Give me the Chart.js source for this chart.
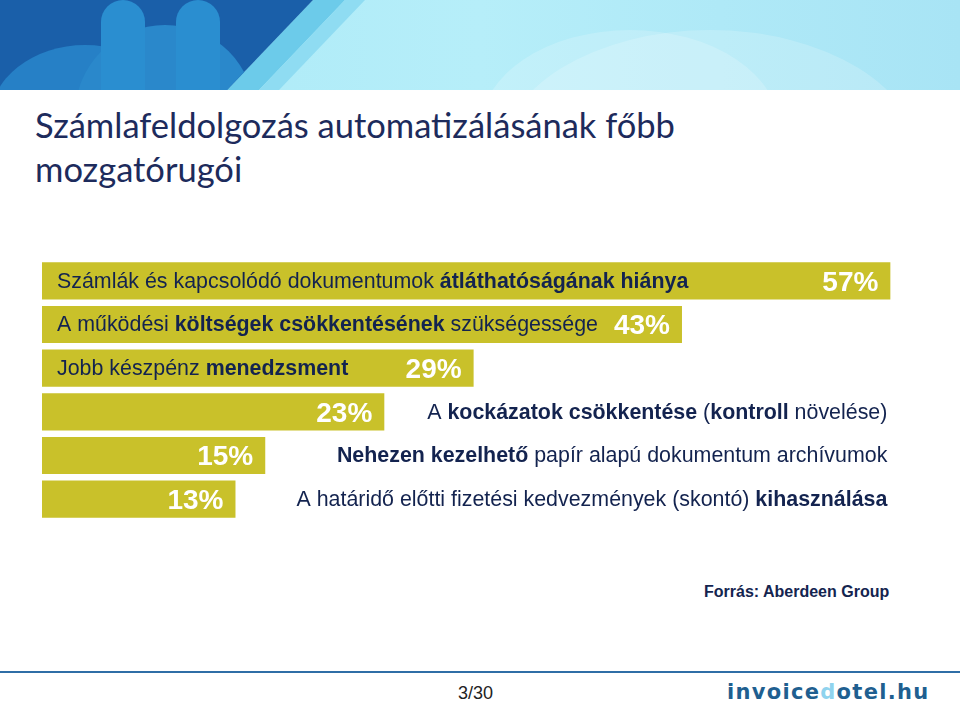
<!DOCTYPE html>
<html>
<head>
<meta charset="utf-8">
<script src="https://cdn.jsdelivr.net/npm/chart.js@4"></script>
<style>
  html, body { margin: 0; padding: 0; background: #fff; }
  body { width: 960px; height: 707px; position: relative; overflow: hidden; font-family: "Liberation Sans", Arial, sans-serif; }
  .header { position: absolute; left: 0; top: 0; width: 960px; height: 90px; background: linear-gradient(90deg, #a9e9f7 0%, #b6eef9 50%, #a8e4f5 100%); overflow: hidden; }
  .header .soft { position: absolute; border-radius: 50%; background: rgba(255,255,255,0.18); }
  .header .dark { position: absolute; left: 0; top: 0; width: 960px; height: 90px; background: #1a5fa9; clip-path: polygon(0 0, 313px 0, 227px 90px, 0 90px); overflow: hidden; }
  .header .stripe { position: absolute; left: 0; top: 0; width: 960px; height: 90px; background: #6ccbea; clip-path: polygon(313px 0, 345px 0, 259px 90px, 227px 90px); }
  .header .stripe2 { position: absolute; left: 0; top: 0; width: 960px; height: 90px; background: #8fdcf2; clip-path: polygon(345px 0, 365px 0, 279px 90px, 259px 90px); }
  .dark .arc { position: absolute; border-radius: 50%; background: #2680c6; }
  .dark .pill { position: absolute; border-radius: 24px 24px 0 0; background: #2a8ed0; }
  .title { position: absolute; left: 35px; top: 103px; font-family: Lato, "Open Sans", sans-serif; font-size: 34.5px; line-height: 44px; color: #1d2b5c; }
  .chartbox { position: absolute; left: 42px; top: 259px; width: 893px; height: 262px; }
  .source { position: absolute; left: 704px; top: 583px; font-size: 16px; font-weight: bold; color: #14244f; }
  .rule { position: absolute; left: 0; top: 671px; width: 960px; height: 2px; background: #2f6ea6; }
  .page { position: absolute; left: 458px; top: 683px; font-size: 18px; color: #222; }
  .logo { position: absolute; left: 727px; top: 680px; font-family: "DejaVu Sans", sans-serif; font-weight: bold; font-size: 21px; letter-spacing: 1.3px; color: #1f5f90; }
  .logo span { color: #8fd3ee; }
</style>
</head>
<body>
<div class="header">
  <div class="soft" style="left:500px; top:30px; width:420px; height:260px;"></div>
  <div class="soft" style="left:480px; top:30px; width:300px; height:200px;"></div>
  <div class="stripe"></div>
  <div class="stripe2"></div>
  <div class="dark">
    <div class="arc" style="left:-10px; top:45px; width:190px; height:150px;"></div>
    <div class="arc" style="left:75px; top:25px; width:180px; height:180px; background:#2a88cb;"></div>
    <div class="pill" style="left:101px; top:0; width:44px; height:90px;"></div>
    <div class="pill" style="left:176px; top:0; width:44px; height:90px;"></div>
  </div>
</div>

<div class="title">Számlafeldolgozás automatizálásának főbb<br>mozgatórugói</div>

<div class="chartbox"><canvas id="bars"></canvas></div>

<div class="source">Forrás: Aberdeen Group</div>
<div class="rule"></div>
<div class="page">3/30</div>
<div class="logo">invoice<span>d</span>otel.hu</div>

<script>
// drivers, top to bottom
const categories = [
  'Számlák és kapcsolódó dokumentumok átláthatóságának hiánya',
  'A működési költségek csökkentésének szükségessége',
  'Jobb készpénz menedzsment',
  'A kockázatok csökkentése (kontroll növelése)',
  'Nehezen kezelhető papír alapú dokumentum archívumok',
  'A határidő előtti fizetési kedvezmények (skontó) kihasználása'
];
const values = [57, 43, 29, 23, 15, 13];
// same texts split into [text, bold] pieces
const labelParts = [
  [['Számlák és kapcsolódó dokumentumok ', false], ['átláthatóságának hiánya', true]],
  [['A működési ', false], ['költségek csökkentésének', true], [' szükségessége', false]],
  [['Jobb készpénz ', false], ['menedzsment', true]],
  [['A ', false], ['kockázatok csökkentése', true], [' (', false], ['kontroll', true], [' növelése)', false]],
  [['Nehezen kezelhető', true], [' papír alapú dokumentum archívumok', false]],
  [['A határidő előtti fizetési kedvezmények (skontó) ', false], ['kihasználása', true]]
];

const barColor = '#c9c12a';
const textColor = '#13234f';
const labelFont = '"Liberation Sans", Arial, sans-serif';
const labelSize = 21.4;

const barLabels = {
  id: 'barLabels',
  afterDatasetsDraw(chart) {
    const ctx = chart.ctx;
    const meta = chart.getDatasetMeta(0);
    const xs = chart.scales.x;
    const outsideRight = xs.getPixelForValue(Math.max(...values)) - 3;
    ctx.save();
    ctx.textBaseline = 'middle';
    meta.data.forEach((bar, i) => {
      const left = bar.base;
      const right = bar.x;
      const y = bar.y + 1;

      // percentage inside the bar end
      ctx.font = 'bold 28px ' + labelFont;
      ctx.fillStyle = '#ffffff';
      ctx.textAlign = 'right';
      const pct = values[i] + '%';
      const pctW = ctx.measureText(pct).width;
      ctx.fillText(pct, right - 12, y + 1);

      // description, inside if it fits, else right of the bar
      const parts = labelParts[i];
      let total = 0;
      parts.forEach(p => {
        ctx.font = (p[1] ? 'bold ' : '') + labelSize + 'px ' + labelFont;
        total += ctx.measureText(p[0]).width;
      });
      let x;
      if (total + pctW + 40 < right - left) {
        x = left + 15;
      } else {
        x = outsideRight - total;
      }
      ctx.textAlign = 'left';
      ctx.fillStyle = textColor;
      parts.forEach(p => {
        ctx.font = (p[1] ? 'bold ' : '') + labelSize + 'px ' + labelFont;
        ctx.fillText(p[0], x, y);
        x += ctx.measureText(p[0]).width;
      });
    });
    ctx.restore();
  }
};

new Chart(document.getElementById('bars'), {
  type: 'bar',
  data: {
    labels: categories,
    datasets: [{
      data: values,
      backgroundColor: barColor,
      borderWidth: 0,
      barPercentage: 0.85,
      categoryPercentage: 1
    }]
  },
  options: {
    indexAxis: 'y',
    responsive: true,
    maintainAspectRatio: false,
    animation: false,
    layout: { padding: 0 },
    plugins: { legend: { display: false }, tooltip: { enabled: false } },
    scales: {
      x: { display: false, min: 0, max: 60 },
      y: { display: false }
    }
  },
  plugins: [barLabels]
});
</script>
</body>
</html>
